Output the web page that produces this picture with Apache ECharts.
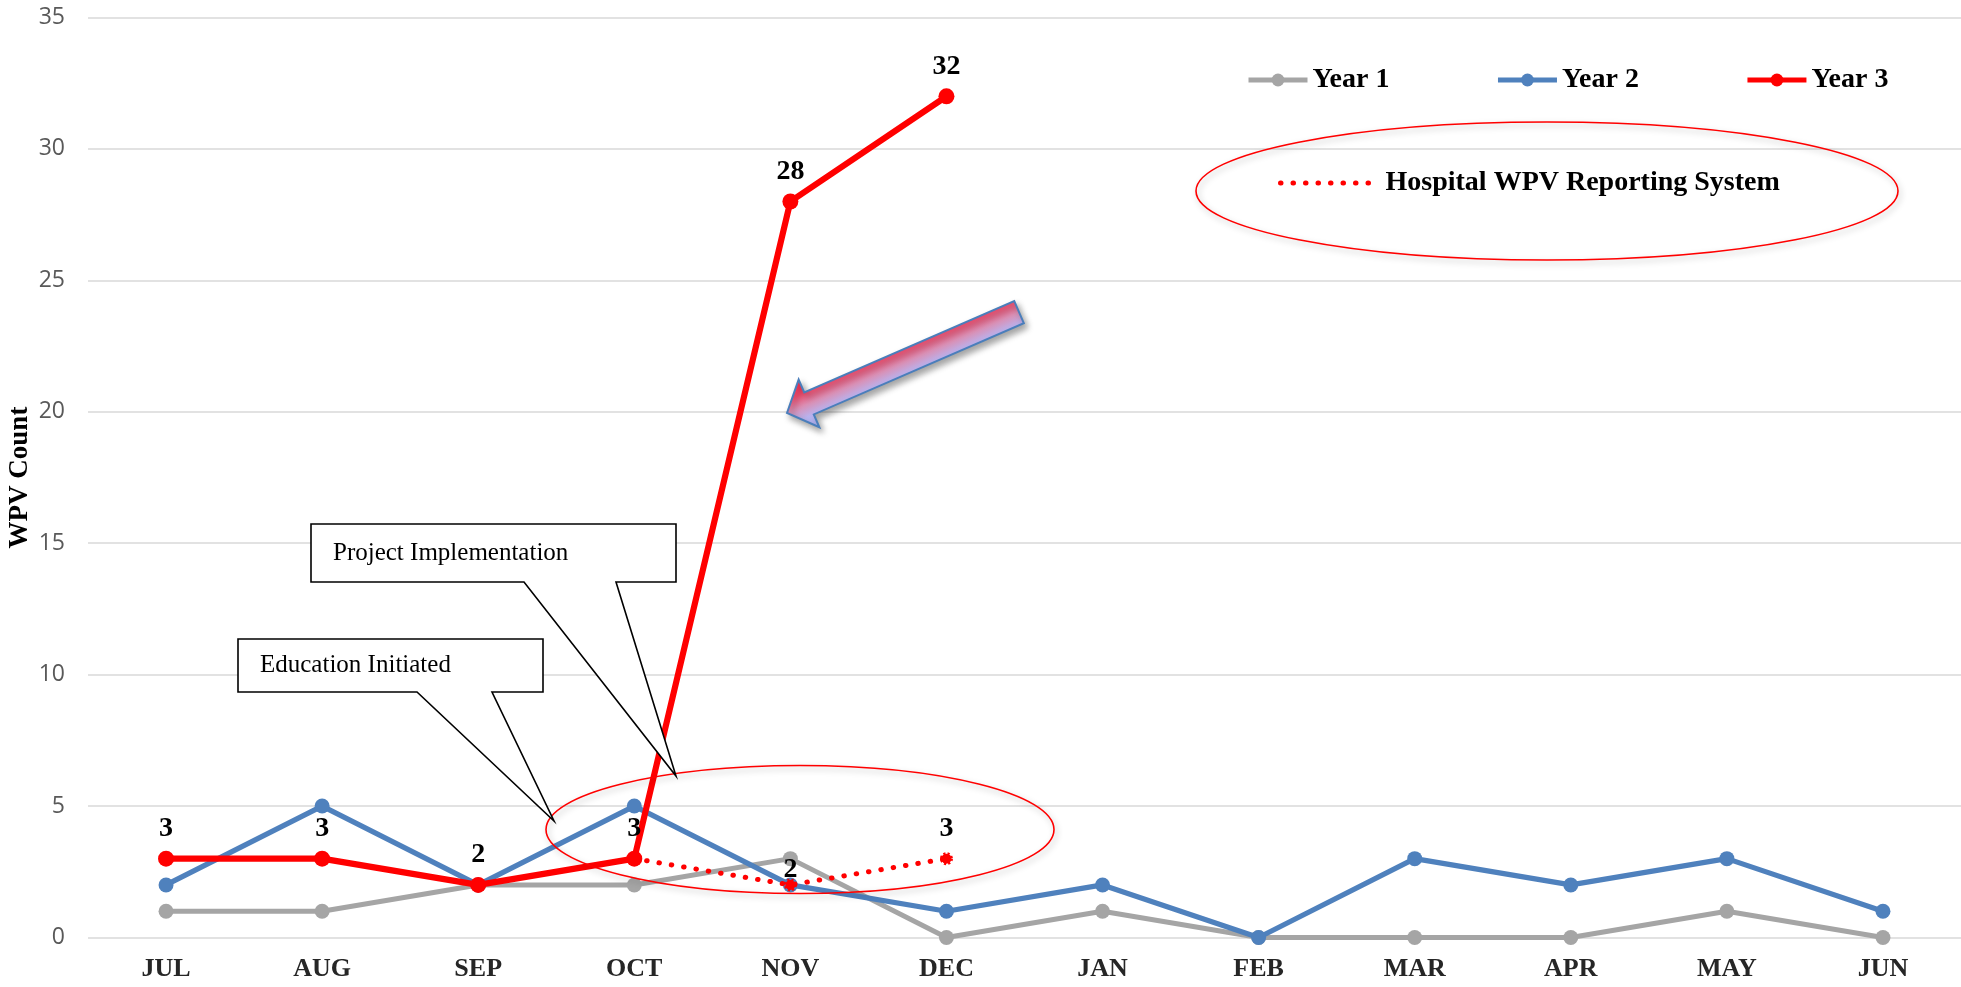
<!DOCTYPE html>
<html>
<head>
<meta charset="utf-8">
<title>WPV Count by Month</title>
<script src="https://cdn.jsdelivr.net/npm/echarts@6/dist/echarts.min.js"></script>
<style>
  html, body { margin: 0; padding: 0; background: #ffffff; }
  #chart { width: 1961px; height: 987px; }
</style>
</head>
<body>
<div id="chart"></div>
<script>
// Monthly workplace-violence counts, fiscal year July–June
const months = ['JUL', 'AUG', 'SEP', 'OCT', 'NOV', 'DEC', 'JAN', 'FEB', 'MAR', 'APR', 'MAY', 'JUN'];
const year1 = [1, 1, 2, 2, 3, 0, 1, 0, 0, 0, 1, 0];
const year2 = [2, 5, 2, 5, 2, 1, 2, 0, 3, 2, 3, 1];
const year3 = [3, 3, 2, 3, 28, 32, null, null, null, null, null, null];
// Same months as counted by the hospital's own reporting system
const hospitalSystem = [null, null, null, 3, 2, 3, null, null, null, null, null, null];

const yMin = 0;
const yMax = 35;
const yStep = 5;

const SERIF = '"Liberation Serif", "Times New Roman", serif';
const RED = '#ff0000';
const BLUE = '#4f81bd';
const GRAY = '#a5a5a5';

const chart = echarts.init(document.getElementById('chart'), null, { renderer: 'canvas' });

const dataLabel = {
  show: true,
  position: 'top',
  distance: 8,
  color: '#000000',
  fontFamily: SERIF,
  fontWeight: 'bold',
  fontSize: 28
};

// Dotted series: every point gets a dotted marker; a label is shown only
// where it does not repeat a Year 3 label, tucked down where it shares
// its spot with a Year 2 point.
const hospitalData = hospitalSystem.map((v, i) => {
  if (v == null) return '-';
  return {
    value: v,
    label: { show: year3[i] !== v, distance: year2[i] === v ? -5 : 9 }
  };
});

const option = {
  animation: false,
  backgroundColor: '#ffffff',
  grid: {
    left: 88, right: 0, top: 17.5, bottom: 49.5,
    containLabel: false,
    outerBoundsMode: 'none'
  },
  legend: [
    {
      data: ['Year 1', 'Year 2', 'Year 3'],
      left: 1241,
      top: 61,
      itemWidth: 59,
      itemHeight: 16,
      itemGap: 106,
      lineStyle: { width: 5 },
      textStyle: { fontFamily: SERIF, fontWeight: 'bold', fontSize: 28, color: '#000000' },
      selectedMode: false
    },
    {
      data: ['Hospital WPV Reporting System'],
      left: 1273,
      top: 164,
      itemWidth: 94,
      itemHeight: 10,
      lineStyle: { width: 5 },
      itemStyle: { opacity: 0 },
      textStyle: {
        fontFamily: SERIF, fontWeight: 'bold', fontSize: 28, color: '#000000',
        padding: [0, 0, 0, 6]
      },
      selectedMode: false
    }
  ],
  xAxis: {
    type: 'category',
    data: months,
    boundaryGap: true,
    axisLine: { show: false },
    axisTick: { show: false },
    axisLabel: {
      margin: 19,
      color: '#262626',
      fontFamily: SERIF,
      fontWeight: 'bold',
      fontSize: 26
    },
    splitLine: { show: false }
  },
  yAxis: {
    type: 'value',
    min: yMin,
    max: yMax,
    interval: yStep,
    name: 'WPV Count',
    nameLocation: 'middle',
    nameGap: 54,
    nameMoveOverlap: false,
    nameTextStyle: { fontFamily: SERIF, fontWeight: 'bold', fontSize: 27, color: '#000000' },
    axisLine: { show: false },
    axisTick: { show: false },
    axisLabel: {
      margin: 23,
      color: '#595959',
      fontFamily: '"Open Sans", "Noto Sans", sans-serif',
      fontSize: 23
    },
    splitLine: { show: true, lineStyle: { color: '#d9d9d9', width: 1.5 } }
  },
  series: [
    {
      name: 'Year 1',
      type: 'line',
      data: year1,
      symbol: 'circle',
      symbolSize: 15,
      lineStyle: { color: GRAY, width: 5 },
      itemStyle: { color: GRAY },
      z: 2
    },
    {
      name: 'Year 2',
      type: 'line',
      data: year2,
      symbol: 'circle',
      symbolSize: 15,
      lineStyle: { color: BLUE, width: 5.2 },
      itemStyle: { color: BLUE },
      z: 3
    },
    {
      name: 'Year 3',
      type: 'line',
      data: year3,
      symbol: 'circle',
      symbolSize: 16,
      lineStyle: { color: RED, width: 6.2 },
      itemStyle: { color: RED },
      label: dataLabel,
      z: 4
    },
    {
      name: 'Hospital WPV Reporting System',
      type: 'line',
      data: hospitalData,
      symbol: 'circle',
      symbolSize: 10,
      lineStyle: { color: RED, width: 5, type: [0.5, 12], cap: 'round' },
      itemStyle: { color: RED, borderColor: RED, borderWidth: 3, borderType: [2, 2] },
      label: dataLabel,
      z: 5
    }
  ]
};

chart.setOption(option);

// Annotations: callouts, highlight ellipses and the pointer arrow
function callout(box, base, tip, text, textLeft) {
  const [l, t, r, b] = box;
  return [
    {
      type: 'polygon',
      z: 20,
      shape: { points: [[l, t], [r, t], [r, b], [base[1], b], tip, [base[0], b], [l, b]] },
      style: { fill: '#ffffff', stroke: '#000000', lineWidth: 1.6, lineJoin: 'miter' }
    },
    {
      type: 'text',
      z: 21,
      x: textLeft,
      y: (t + b) / 2,
      style: {
        text: text,
        fill: '#000000',
        font: '25px ' + SERIF,
        verticalAlign: 'middle',
        align: 'left'
      }
    }
  ];
}

function ellipse(cx, cy, rx, ry) {
  return {
    type: 'ellipse',
    z: 15,
    shape: { cx: cx, cy: cy, rx: rx, ry: ry },
    style: {
      fill: null,
      stroke: RED,
      lineWidth: 1.6,
      shadowBlur: 6,
      shadowOffsetX: 2,
      shadowOffsetY: 3,
      shadowColor: 'rgba(0,0,0,0.28)'
    }
  };
}

// Block arrow drawn pointing left from its tip, then turned into place
const ARROW_LEN = 253, HEAD_LEN = 24, HEAD_HALF = 26, SHAFT_HALF = 12;
const arrow = {
  type: 'polygon',
  z: 18,
  x: 787,
  y: 413,
  rotation: 0.41,
  shape: {
    points: [
      [0, 0],
      [HEAD_LEN, -HEAD_HALF],
      [HEAD_LEN, -SHAFT_HALF],
      [ARROW_LEN, -SHAFT_HALF],
      [ARROW_LEN, SHAFT_HALF],
      [HEAD_LEN, SHAFT_HALF],
      [HEAD_LEN, HEAD_HALF]
    ]
  },
  style: {
    fill: {
      type: 'linear', x: 0, y: 0, x2: 0, y2: 1,
      colorStops: [
        { offset: 0, color: '#ff2448' },
        { offset: 0.28, color: '#f24d6e' },
        { offset: 0.5, color: '#da8fb4' },
        { offset: 0.72, color: '#b9b3ef' },
        { offset: 1, color: '#aeb8fa' }
      ]
    },
    stroke: '#4a7ebb',
    lineWidth: 2,
    lineJoin: 'miter',
    shadowBlur: 6,
    shadowOffsetX: 3,
    shadowOffsetY: 4,
    shadowColor: 'rgba(0,0,0,0.35)'
  }
};

chart.setOption({
  graphic: [
    ellipse(800, 829.5, 254, 64),
    ellipse(1547, 191, 351, 69),
    arrow,
    ...callout([311, 524, 676, 582], [524, 616], [676, 776], 'Project Implementation', 333),
    ...callout([238, 639, 543, 692], [417, 492], [554, 821], 'Education Initiated', 260)
  ]
});
</script>
</body>
</html>
